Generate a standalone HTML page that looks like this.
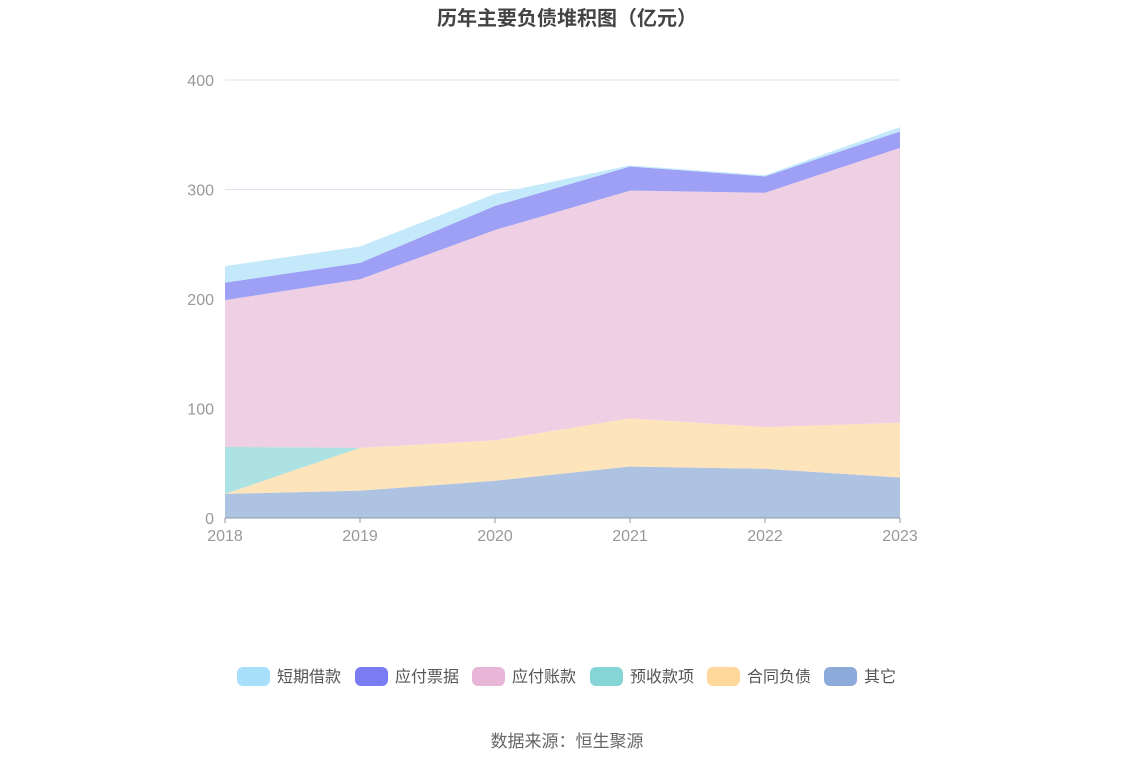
<!DOCTYPE html>
<html><head><meta charset="utf-8"><style>
body{margin:0;background:#fff;font-family:"Liberation Sans","Noto Sans CJK SC",sans-serif;}
</style></head><body>
<svg width="1134" height="766" id="svg" style="display:block">
<text x="567" y="25" text-anchor="middle" font-size="20" font-weight="bold" fill="#444" font-family="Liberation Sans,Noto Sans CJK SC,sans-serif">历年主要负债堆积图（亿元）</text>
<g id="grid"></g><g id="areas"></g><g id="axes"></g><g id="legend"></g>
<text x="567" y="747" text-anchor="middle" font-size="17" fill="#666" font-family="Liberation Sans,Noto Sans CJK SC,sans-serif">数据来源：恒生聚源</text>
</svg>
<script>
const categories=["2018","2019","2020","2021","2022","2023"];
const seriesNames=["其它","合同负债","预收款项","应付账款","应付票据","短期借款"];
const other=[22,25,34,47,45,37];
const contract=[0,39,37,44,38,50];
const advance=[43,0,0,0,0,0];
const payable=[134,154,192,208,214,251];
const notes=[16,15,22,22,15,15];
const shortLoan=[15,15,11,1,1,4];
const yTicks=[0,100,200,300,400];
const series=[other,contract,advance,payable,notes,shortLoan];
const fills=["#aec2e2","#fde4bb","#ade2e2","#eecfe4","#9da0f5","#c3e9fb"];
const legendColors=["#a8dffa","#7a7cf3","#e8b7d8","#86d5d6","#fdd89a","#8cabdb"];
const legendNames=["短期借款","应付票据","应付账款","预收款项","合同负债","其它"];
const NS="http://www.w3.org/2000/svg";
const x0=225,x1=900,y0=518,y1=80;
const X=i=>x0+(x1-x0)*i/(categories.length-1);
const Y=v=>y0-(y0-y1)*v/400;
function mk(t,a,p){const e=document.createElementNS(NS,t);for(const k in a)e.setAttribute(k,a[k]);p.appendChild(e);return e;}
const grid=document.getElementById('grid'),axes=document.getElementById('axes'),areas=document.getElementById('areas'),legend=document.getElementById('legend');
yTicks.forEach(t=>{
 if(t>0){const l=mk('line',{x1:x0,x2:x1,y1:Y(t),y2:Y(t),stroke:"#e0e3f0"},grid);
 
 }
 const tx=mk('text',{x:214,y:Y(t)+6,'text-anchor':'end','font-size':16,fill:'#999'},axes);tx.textContent=t;
 
 
});
let base=categories.map(()=>0);
series.forEach((s,si)=>{
 const top=base.map((b,i)=>b+s[i]);
 let d="M"+top.map((v,i)=>X(i)+","+Y(v)).join("L");
 for(let i=categories.length-1;i>=0;i--)d+="L"+X(i)+","+Y(base[i]);
 const p=mk('path',{d:d+"Z",fill:fills[si]},areas);
 
 
 base=top;
});
mk('line',{x1:x0,x2:x1,y1:y0,y2:y0,stroke:"#8c9aab"},axes);
categories.forEach((c,i)=>{
 mk('line',{x1:X(i),x2:X(i),y1:y0,y2:y0+5,stroke:"#8c9aab"},axes);
 const t=mk('text',{x:X(i),y:541,'text-anchor':'middle','font-size':16,fill:'#999'},axes);t.textContent=c;
 
 
});
const lx=[237,355,472,590,707,824];
legendNames.forEach((n,i)=>{
 const g=mk('g',{},legend);
 
 
 mk('rect',{x:lx[i],y:667,width:33,height:19,rx:6,fill:legendColors[i]},g);
 const t=mk('text',{x:lx[i]+40,y:682,'font-size':16,fill:'#555'},g);t.textContent=n;
});
</script>
</body></html>
